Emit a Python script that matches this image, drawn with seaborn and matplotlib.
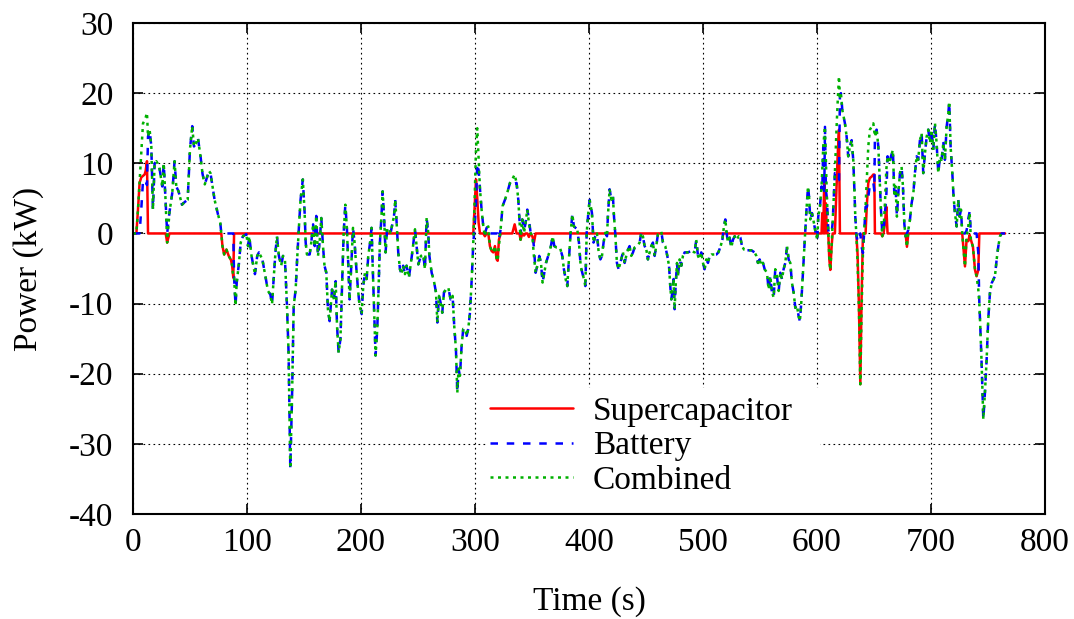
import pandas as pd
import seaborn as sns
import matplotlib.pyplot as plt
from matplotlib.patches import Rectangle

# Time samples (s)
time = [
    0, 3, 4.4, 5.8, 7.3, 8.8, 10.2, 11.1, 12.3, 13.2,
    14.6, 16.1, 17.5, 19, 20.5, 23, 25.7, 27, 28.7, 30,
    32, 34.5, 36.5, 38, 40, 43, 45.5, 48, 50, 52,
    53.5, 55, 57, 59.4, 61, 63, 66.7, 68, 71.6, 74.6,
    76.6, 77.5, 78.5, 80, 82, 84, 86, 87, 88, 88.7,
    90, 91, 93, 94.5, 96.5, 99.4, 101, 102, 104, 107,
    109, 110.5, 113.5, 116.4, 118.4, 120.5, 122, 123.4, 125, 126.3,
    128, 130, 131.6, 133.3, 135, 136.5, 138, 139.5, 141, 142.7,
    144, 145.6, 147, 149, 150.6, 151.5, 152.6, 155, 156.4, 158,
    159.4, 160.8, 162.3, 163.7, 165.2, 166.7, 168, 169.6, 171, 172.5,
    174.6, 176.3, 177.8, 179, 180.4, 182, 183.6, 184.8, 186.3, 187.7,
    188.6, 190, 191.5, 193, 194.4, 196, 197.4, 198.8, 200.6, 202,
    203.5, 205, 206.4, 208, 209.3, 210.2, 211.4, 212.8, 214.3, 215.5,
    216.6, 218, 219, 220.2, 221.6, 223, 224.5, 226, 229, 230,
    231.3, 232.7, 234.2, 235.6, 237, 238.6, 240, 242, 243.5, 245,
    247.4, 248.8, 250.3, 252.6, 254.7, 256.1, 257.6, 259, 260, 262,
    264, 265.8, 267, 268.4, 269.9, 271.3, 272.8, 274.5, 276.6, 278.6,
    280.4, 281.8, 283.3, 284.5, 285.6, 286.8, 288.3, 289.7, 291.2, 292.7,
    294.1, 295.6, 297.3, 298.5, 299.7, 300.9, 302, 303.2, 304.4, 305.8,
    307.3, 308.7, 310.2, 311.7, 313.1, 314.6, 316, 317.5, 319, 319.9,
    321, 322.5, 324.2, 326.3, 328.3, 330.7, 332.7, 334.8, 336.5, 338,
    339, 340, 341.5, 343, 344.4, 345.9, 347.3, 348.8, 350.3, 351.7,
    353.2, 354.7, 356.4, 357.9, 359.3, 360.8, 362.3, 363.7, 365.2, 366.6,
    368.1, 369.6, 371.6, 374.5, 376.6, 378, 379.5, 381, 382.4, 383.9,
    385.4, 386.8, 388.3, 389.7, 391.2, 392.7, 394.1, 395.6, 396.8, 398,
    399.4, 400.6, 402.6, 404, 405.5, 407, 408.5, 410, 411.4, 412.8,
    414.3, 415.8, 416.6, 418.1, 419.6, 421, 421.9, 423, 424.5, 426,
    427.5, 429.8, 431.3, 432.7, 434.2, 435.6, 437.1, 438.6, 440, 442.4,
    444.4, 445.9, 447.3, 448.8, 450.3, 451.7, 453.2, 454.7, 456.1, 457.6,
    459, 460.5, 462, 463.4, 464.9, 466.9, 468.7, 470.2, 471.3, 472.2,
    473.1, 474.2, 475.1, 476, 477.2, 478, 479.5, 481, 482.4, 483.9,
    486.8, 489.7, 492.7, 494.1, 495.6, 497, 498.5, 500, 501.4, 502.9,
    504.4, 505.8, 507.3, 509.6, 511.7, 513.5, 515.5, 517, 518.4, 519.6,
    520.7, 521.9, 523.4, 524.8, 526.3, 527.8, 529.5, 531.3, 532.8, 534.2,
    536, 538.9, 542.4, 545.3, 546.8, 548.2, 549.7, 551.2, 552.6, 554.1,
    556.1, 557.6, 559, 560.5, 562, 563.4, 564.9, 566.4, 567.8, 569.3,
    570.7, 572.2, 573.7, 575.1, 576.6, 578, 579.5, 581, 582.4, 583.9,
    585, 586.2, 587.7, 589.2, 590.6, 592.1, 593, 594.1, 595.6, 597.3,
    598.8, 600.3, 601.1, 602.6, 604, 604.6, 605.5, 606.4, 607, 607.8,
    608.7, 609.9, 610.8, 611.7, 612.8, 613.7, 615.7, 617.2, 618.1, 619.3,
    620.1, 621, 622.2, 623.3, 624.5, 626, 627.4, 628.9, 630.4, 631.8,
    632.7, 633.6, 634.5, 635.6, 636.8, 638, 639.1, 640.3, 641.5, 642.6,
    643.8, 645, 646.4, 647.9, 649.4, 650.3, 650.8, 652.3, 653.8, 655.2,
    656.1, 657.3, 658.4, 659.6, 660.8, 661.9, 663.4, 664.9, 666.6, 667.8,
    668.9, 670.1, 671.3, 672.8, 674.2, 675.4, 676.6, 677.7, 678.9, 680.1,
    681.5, 683, 684.5, 685.9, 687.4, 688.8, 690.3, 691.8, 693.2, 694.7,
    696.2, 697.6, 699.1, 700.5, 702, 703.5, 704.9, 706.4, 707.9, 709.3,
    710.8, 712.2, 713.7, 715.2, 716, 717.2, 718.7, 719.8, 721, 722.5,
    723.9, 725.1, 726.3, 727.4, 728.6, 729.8, 731.2, 732.7, 733.9, 735,
    736.8, 738.6, 740, 741.5, 742.4, 743, 744.4, 745.9, 747.3, 748.8,
    750.2, 751.7, 753.2, 754.6, 756.1, 757.6, 759, 760.5, 762, 765,
]

# Combined power (kW) at each time sample
combined = [
    0, 0, 3.4, 7.2, 11.5, 15.7, 16.1, 16.5, 17.2, 13.8,
    14.8, 12.4, 3.4, 10, 10.3, 9.6, 6.7, 10, 4.4, -1.3,
    3, 5.8, 10.3, 6.7, 6, 4.1, 4.5, 4.8, 12, 15.3,
    12.4, 12.8, 13.6, 10.8, 8.5, 7, 8.9, 8.6, 4.8, 2.7,
    1.5, 0, -1.8, -3, -2.3, -3.2, -3.8, -4.6, -6.3, -6.3,
    -10.3, -7, -4.2, -1.3, -0.4, -0.1, -1.8, -0.4, -3.2, -5.8,
    -3.2, -2.7, -3.7, -6.3, -8.2, -8.7, -10.1, -6.5, -2.7, -0.4,
    -3.2, -4.6, -3.2, -3.7, -9.9, -17, -33.5, -23.6, -10.3, -8,
    -3.7, 1, 4.8, 7.7, 2.9, -1.3, -3, -3, -1.3, 1.3,
    -1.8, 2.5, -3.2, -1.3, 2.2, -1.8, -4.6, -5.6, -10.8, -12.5,
    -8, -9.4, -6.8, -13.2, -17, -15, -6.5, 0, 4.1, 0.6,
    -3.2, -9.4, -4.6, 0.8, -1.3, -5.1, -8, -10.3, -11.5, -7.5,
    -5.6, -6.5, -3.2, -1.3, 0.8, -4.2, -10.3, -17.4, -13.6, -7.5,
    -1.3, 2.5, 6, 2.5, -2.7, 0.8, 0.6, 0.1, 2.5, 4.8,
    1.5, -2.7, -5.1, -5.8, -4.6, -5.8, -4.6, -6.3, -4.6, -2.7,
    0.6, -1.8, -4.4, -3.2, -3, -5.1, 2.2, 0.1, -3.2, -5.6,
    -6.8, -8.4, -12.7, -8.9, -9.9, -11.3, -8.4, -8, -7.7, -9.4,
    -8.9, -13.2, -16.5, -22.7, -19.3, -20.3, -16, -13.6, -13.6, -14.6,
    -13.6, -11.3, -6, -1.3, 4.8, 12, 15, 10.5, 6.3, 3.4,
    1, -0.4, 0.8, 1, -1.8, -2.5, -2.7, -1.8, -3.7, -3.9,
    -1.8, 0.6, 3.9, 4.8, 5.8, 7.2, 7.7, 8.4, 7.2, 4.8,
    2, -0.9, 2, 0.1, 1.5, 3.4, 1.5, 0.1, -0.4, -3.2,
    -5.6, -4.6, -3.2, -4.2, -7, -5.6, -4.2, -3.5, -2.7, -1.8,
    -0.4, -1.8, -2, -2, -3.2, -5.1, -6.5, -7.5, -3.7, 0.1,
    2.7, 1, 0.8, 0.6, -1.3, -4.6, -5.6, -6.5, -7.5, 0.1,
    2.9, 4.8, 2.9, -1.3, -0.4, 0, -2.7, -3.7, -3.2, -1.3,
    0.1, -0.4, 2.5, 6.3, 4.8, 5.3, 2.5, 0.1, -4.2, -5.1,
    -4.2, -2.7, -4.2, -3.2, -2.3, -1.8, -3.2, -2.7, -2, -1.8,
    -1.3, 0.1, -0.4, -1.8, -2.3, -3.7, -2.7, -1.8, -1.3, -3.2,
    -1.8, -0.1, 0.1, 0.3, -1.3, -1.8, -3.2, -4.6, -7.5, -9.4,
    -8.4, -6.5, -10.8, -7.5, -4.2, -6.1, -3.7, -4.6, -3.2, -2.7,
    -2.7, -2.5, -2.7, -0.9, -3.2, -3.7, -2.7, -4.2, -5.1, -3.7,
    -4.2, -3.2, -3, -3, -3, -2.7, -1.8, -0.9, 1, 2,
    0.1, -1.3, -0.6, -2, -0.9, -0.4, -0.9, -0.4, -0.6, -1.8,
    -2.3, -2.4, -2.4, -2.7, -3.2, -4.2, -3.7, -4.6, -4.2, -5.1,
    -5.6, -8, -6.1, -8.4, -9.1, -5.1, -6.1, -8.2, -5.6, -6.5,
    -5.1, -4.2, -1.8, -3.7, -4.2, -7, -8.4, -10.6, -10.3, -11.8,
    -12.5, -9.9, -5.6, -1.3, 2.9, 6.7, 5.3, 2, 2.9, 1.5,
    0.1, -0.9, 2.4, 3.8, 6.7, 9, 12.4, 14, 15.2, 10.5,
    5, 0.5, -3.7, -5.2, -1.9, 1.5, 8.6, 15.2, 18.6, 22.4,
    19.5, 20, 17.6, 16.7, 15.7, 13.8, 11, 12.4, 13.3, 10.5,
    6.7, 2.4, 0, -4.2, -10.9, -21.5, -11.3, -2.8, 0.5, 3.8,
    8.1, 12.4, 14.8, 15.2, 15.7, 14.5, 13.8, 14.8, 12.4, 7.1,
    3.4, -0.4, 0.5, 4.3, 9.1, 11, 10, 11, 11.9, 5.7,
    6.7, 2.4, 5.7, 8.6, 9.5, 6.7, 1.4, -0.4, -1.9, 0.5,
    1.9, 4.3, 5.7, 8.6, 11, 10.5, 13.3, 14.3, 8.6, 11.4,
    13.8, 14.8, 12.9, 14.8, 11.9, 15.7, 12.9, 8.6, 11, 10.5,
    12.9, 10.5, 15.2, 17.1, 18.8, 12.4, 8.6, 5.3, 2.9, 1,
    4.8, 2.4, 3.4, 0, -2.3, -4.7, -0.5, 1, 2.9, -0.9,
    -1.9, -5.2, -6.1, -8, -10, -12.3, -18.5, -26.5, -22.7, -18,
    -12.3, -8.5, -7.1, -6.6, -6.1, -3.7, -1.9, -0.4, 0, 0,
]

# Supercapacitor power (kW): only the samples where it is not zero
sc_time = [
    4.4, 5.8, 7.3, 8.8, 10.2, 11.1, 12.3, 30,
    78.5, 80, 82, 84, 86, 87, 88,
    299.7, 300.9, 302, 303.2, 308.7, 313.1, 314.6, 316, 317.5, 319, 319.9, 321,
    334.8, 340, 343, 347.3, 350.3, 351.7,
    604.6, 606.4, 607.8, 610.8, 611.7, 612.8, 617.2, 618.1, 619.3,
    635.6, 636.8, 638, 639.1, 643.8, 645, 646.4, 647.9, 649.4, 650.3,
    657.3, 659.6, 660.8, 678.9,
    728.6, 729.8, 731.2, 732.7, 733.9, 735, 736.8, 738.6, 740, 741.5,
]
sc_value = [
    3.4, 7.2, 8.0, 8.2, 8.4, 8.9, 10.3, -1.3,
    -1.8, -3, -2.3, -3.2, -3.8, -4.6, -6.3,
    4, 7.7, 5, 1.5, -0.4, -1.8, -2.5, -2.7, -1.8, -3.7, -3.9, -0.9,
    1.3, -0.9, -0.3, -0.5, -0.4, -1.3,
    2.9, 8.1, 4.3, -3.7, -5.2, -1.9, 6.7, 11, 14.8,
    -3, -10.5, -21.5, -9.4, 4.3, 7.2, 7.9, 8.1, 8.4, 8.4,
    -0.4, 1.5, 3.8, -1.9,
    -2.3, -4.7, -0.9, -1.1, -0.2, -0.9, -1.9, -5.2, -6.1, -5.2,
]

x_ticks = list(range(0, 801, 100))
y_ticks = list(range(-40, 31, 10))

sc_map = dict(zip(sc_time, sc_value))
df = pd.DataFrame({"time": time, "combined": combined})
df["supercap"] = [sc_map.get(t, 0.0) for t in time]
df["battery"] = df["combined"] - df["supercap"]

sns.set_style("ticks")
plt.rcParams["font.family"] = ["Liberation Serif", "DejaVu Serif"]
plt.rcParams["axes.unicode_minus"] = False
plt.rcParams["text.color"] = "black"
plt.rcParams["axes.labelcolor"] = "black"
fs = 24

fig = plt.figure(figsize=(10.74, 6.19), dpi=100)
ax = fig.add_axes([0.1238, 0.1696, 0.8492, 0.7932])

sns.lineplot(data=df, x="time", y="supercap", ax=ax, color="#ff0000",
             linewidth=1.8, estimator=None, label="Supercapacitor")
sns.lineplot(data=df, x="time", y="battery", ax=ax, color="#0000ff",
             linewidth=1.8, linestyle=(0, (3, 3.5)), estimator=None, label="Battery")
sns.lineplot(data=df, x="time", y="combined", ax=ax, color="#00b000",
             linewidth=1.8, linestyle=(0, (1.2, 1.8)), estimator=None, label="Combined")

ax.set_xlim(0, 800)
ax.set_ylim(-40, 30)
ax.set_xticks(x_ticks)
ax.set_yticks(y_ticks)
ax.set_axisbelow(True)
ax.grid(True, color="black", linestyle=(0, (1.5, 3)), linewidth=0.8)

# white box behind the key, hides the grid there
ax.add_patch(Rectangle((0.388, 0.0), 0.365, 0.257, transform=ax.transAxes,
                       facecolor="white", edgecolor="none", zorder=1))

handles, labels = ax.get_legend_handles_labels()
ax.legend(handles, labels, loc="upper left", bbox_to_anchor=(0.391, 0.240),
          frameon=False, fontsize=fs, borderpad=0, borderaxespad=0,
          handlelength=2.5, handletextpad=0.6, labelspacing=0.12)

for s in ax.spines.values():
    s.set_linewidth(1.5)
    s.set_color("black")

ax.tick_params(direction="in", length=7, width=1.2, top=True, right=True,
               labelsize=fs, colors="black")
ax.tick_params(axis="x", pad=10)
ax.tick_params(axis="y", pad=14)

ax.set_xlabel("Time (s)", fontsize=fs, labelpad=20)
ax.set_ylabel("Power (kW)", fontsize=fs, labelpad=18)

fig.savefig("out.png", dpi=100)
